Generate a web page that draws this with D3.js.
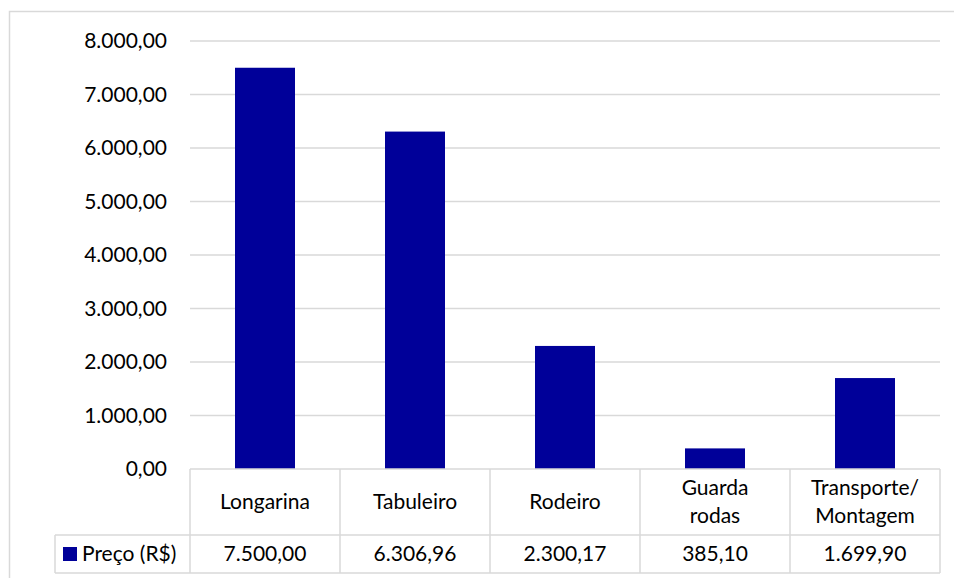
<!DOCTYPE html>
<html>
<head>
<meta charset="utf-8">
<script src="https://cdn.jsdelivr.net/npm/d3@7"></script>
<style>
  html, body { margin: 0; padding: 0; background: #fff; }
  svg { display: block; }
  text { font-family: "Lato", "Open Sans", sans-serif; fill: #000; }
</style>
</head>
<body>
<svg id="chart" width="954" height="578"></svg>
<script>
// Custo por componente
const categories = ["Longarina", "Tabuleiro", "Rodeiro", "Guarda rodas", "Transporte/ Montagem"];
const categoryLines = [["Longarina"], ["Tabuleiro"], ["Rodeiro"], ["Guarda", "rodas"], ["Transporte/", "Montagem"]];
const seriesName = "Preço (R$)";
const prices = [7500.00, 6306.96, 2300.17, 385.10, 1699.90];
const yTicks = [0, 1000, 2000, 3000, 4000, 5000, 6000, 7000, 8000];

const ptBR = d3.formatLocale({ decimal: ",", thousands: ".", grouping: [3], currency: ["R$", ""] });
const fmt = ptBR.format(",.2f");

const svg = d3.select("#chart");
const W = 954, H = 578;
const plot = { left: 190, right: 940, top: 41, bottom: 469 };
const table = { left: 55, headerBottom: 535, bottom: 573 };
const gridColor = "#d9d9d9";
const barColor = "#000099";
const fontSize = 21;

// chart area border
svg.append("rect")
  .attr("x", 9.5).attr("y", 11.5)
  .attr("width", W).attr("height", H)
  .attr("fill", "none").attr("stroke", gridColor).attr("stroke-width", 1.5);

const x = d3.scaleBand().domain(categories).range([plot.left, plot.right]).padding(0);
const y = d3.scaleLinear().domain([0, 8000]).range([plot.bottom, plot.top]);

// horizontal gridlines
svg.append("g").selectAll("line")
  .data(yTicks.filter(t => t > 0))
  .join("line")
  .attr("x1", plot.left).attr("x2", plot.right)
  .attr("y1", d => y(d)).attr("y2", d => y(d))
  .attr("stroke", gridColor).attr("stroke-width", 1.5);

// value axis labels
const yAxis = d3.axisLeft(y).tickValues(yTicks).tickFormat(fmt).tickSize(0).tickPadding(23);
const yg = svg.append("g").attr("transform", `translate(${plot.left},0)`).call(yAxis);
yg.select(".domain").remove();
yg.selectAll("text").attr("font-size", fontSize).attr("font-family", "Lato, 'Open Sans', sans-serif").attr("fill", "#000");

// bars
const barW = x.bandwidth() * 0.4;
svg.append("g").selectAll("rect")
  .data(prices)
  .join("rect")
  .attr("x", (d, i) => x(categories[i]) + (x.bandwidth() - barW) / 2)
  .attr("y", d => y(d))
  .attr("width", barW)
  .attr("height", d => y(0) - y(d))
  .attr("fill", barColor);

// data table grid
const tg = svg.append("g").attr("stroke", gridColor).attr("stroke-width", 1.5);
tg.append("line").attr("x1", plot.left).attr("x2", plot.right).attr("y1", plot.bottom).attr("y2", plot.bottom);
tg.append("line").attr("x1", table.left).attr("x2", plot.right).attr("y1", table.headerBottom).attr("y2", table.headerBottom);
tg.append("line").attr("x1", table.left).attr("x2", plot.right).attr("y1", table.bottom).attr("y2", table.bottom);
tg.append("line").attr("x1", table.left).attr("x2", table.left).attr("y1", table.headerBottom).attr("y2", table.bottom);
const edges = categories.map(c => x(c)).concat([plot.right]);
tg.selectAll(".v").data(edges).join("line")
  .attr("x1", d => d).attr("x2", d => d)
  .attr("y1", plot.bottom).attr("y2", table.bottom);

// category header cells
const headerMid = (plot.bottom + table.headerBottom) / 2;
const lineGap = 28;
categories.forEach((c, i) => {
  const lines = categoryLines[i];
  const cx = x(c) + x.bandwidth() / 2;
  lines.forEach((ln, j) => {
    svg.append("text")
      .attr("x", cx)
      .attr("y", headerMid + (j - (lines.length - 1) / 2) * lineGap)
      .attr("dy", "0.35em")
      .attr("text-anchor", "middle")
      .attr("font-size", fontSize)
      .text(ln);
  });
});

// value row
const valueMid = (table.headerBottom + table.bottom) / 2;
svg.append("g").selectAll("text")
  .data(prices)
  .join("text")
  .attr("x", (d, i) => x(categories[i]) + x.bandwidth() / 2)
  .attr("y", valueMid)
  .attr("dy", "0.35em")
  .attr("text-anchor", "middle")
  .attr("font-size", fontSize)
  .text(d => fmt(d));

// legend key in the table
svg.append("rect")
  .attr("x", 63).attr("y", valueMid - 7)
  .attr("width", 14).attr("height", 14)
  .attr("fill", barColor);
svg.append("text")
  .attr("x", 82).attr("y", valueMid)
  .attr("dy", "0.35em")
  .attr("font-size", fontSize)
  .text(seriesName);
</script>
</body>
</html>
